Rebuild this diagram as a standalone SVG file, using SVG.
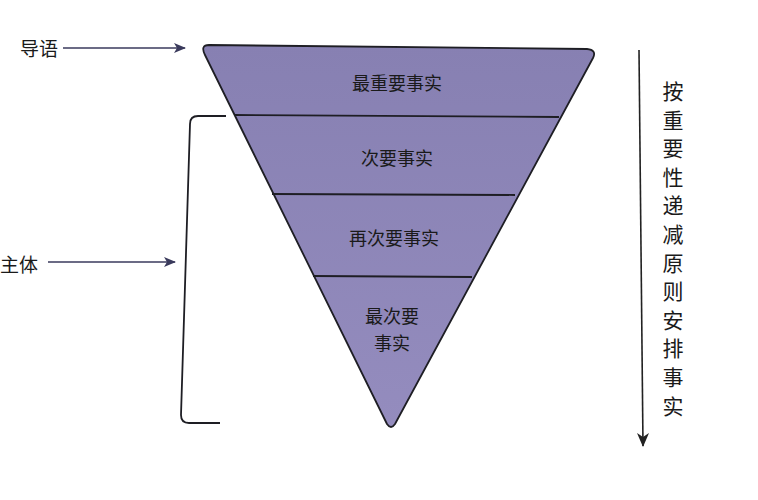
<svg xmlns="http://www.w3.org/2000/svg" width="758" height="500" viewBox="0 0 758 500">
<defs>
<style>
.lbl{font-family:"Noto Sans CJK SC","Noto Sans",sans-serif;fill:#1a1a1a;}
.in{font-size:18px;text-anchor:middle;dominant-baseline:central;}
.side{font-size:19px;dominant-baseline:central;}
.vt{font-size:21px;text-anchor:middle;dominant-baseline:central;}
.ln{stroke:#1e1e24;stroke-width:1.8;fill:none;}
.arr{stroke:#3a3a5c;stroke-width:1.6;fill:none;}
</style>
<marker id="ah" viewBox="0 0 12 10" refX="11" refY="5" markerWidth="12" markerHeight="10" markerUnits="userSpaceOnUse" orient="auto">
<path d="M0,0 L12,5 L0,10 L3,5 Z" fill="#3a3a5c"/>
</marker>
<marker id="ahd" viewBox="0 0 12 14" refX="6" refY="13" markerWidth="12" markerHeight="14" markerUnits="userSpaceOnUse" orient="0">
<path d="M0,0 L6,14 L12,0 L6,4 Z" fill="#222"/>
</marker>
<linearGradient id="g" x1="0" y1="0" x2="0" y2="1">
<stop offset="0" stop-color="#8780b2"/>
<stop offset="1" stop-color="#948cbe"/>
</linearGradient>
</defs>
<rect width="758" height="500" fill="#ffffff"/>
<g id="pyramid">
<path d="M209,45 L587,49 Q597,50 593,58 L395,424 Q391,430 387,424 L205,55 Q200,45 209,45 Z" fill="url(#g)" stroke="#1e1e24" stroke-width="1.8" stroke-linejoin="round"/>
</g>
<g id="dividers">
<line class="ln" x1="234" y1="115" x2="559" y2="117"/>
<line class="ln" x1="272" y1="194" x2="515" y2="195"/>
<line class="ln" x1="313" y1="276" x2="472" y2="277"/>
</g>
<g id="node-1"><text class="lbl in" x="397" y="82">最重要事实</text></g>
<g id="node-2"><text class="lbl in" x="397" y="157">次要事实</text></g>
<g id="node-3"><text class="lbl in" x="394" y="237">再次要事实</text></g>
<g id="node-4"><text class="lbl in" x="392" y="315">最次要</text><text class="lbl in" x="392" y="342">事实</text></g>
<g id="label-lead"><text class="lbl side" x="20" y="47">导语</text></g>
<g id="label-body"><text class="lbl side" x="0" y="263">主体</text></g>
<g id="bracket"><path class="ln" d="M226,116 L198,116 Q190,116 190,124 L181,415 Q181,423 189,423 L220,423"/></g>
<g id="connectors">
<line class="arr" x1="63" y1="48" x2="185" y2="48" marker-end="url(#ah)"/>
<line class="arr" x1="48" y1="262" x2="175" y2="262" marker-end="url(#ah)"/>
<line x1="639" y1="50" x2="643" y2="446" stroke="#222" stroke-width="1.6" marker-end="url(#ahd)"/>
</g>
<g id="principle">
<text class="lbl vt" x="673" y="90">按</text>
<text class="lbl vt" x="673" y="118.6">重</text>
<text class="lbl vt" x="673" y="147.2">要</text>
<text class="lbl vt" x="673" y="175.8">性</text>
<text class="lbl vt" x="673" y="204.4">递</text>
<text class="lbl vt" x="673" y="233">减</text>
<text class="lbl vt" x="673" y="261.6">原</text>
<text class="lbl vt" x="673" y="290.2">则</text>
<text class="lbl vt" x="673" y="318.8">安</text>
<text class="lbl vt" x="673" y="347.4">排</text>
<text class="lbl vt" x="673" y="376">事</text>
<text class="lbl vt" x="673" y="404.6">实</text>
</g>
</svg>
